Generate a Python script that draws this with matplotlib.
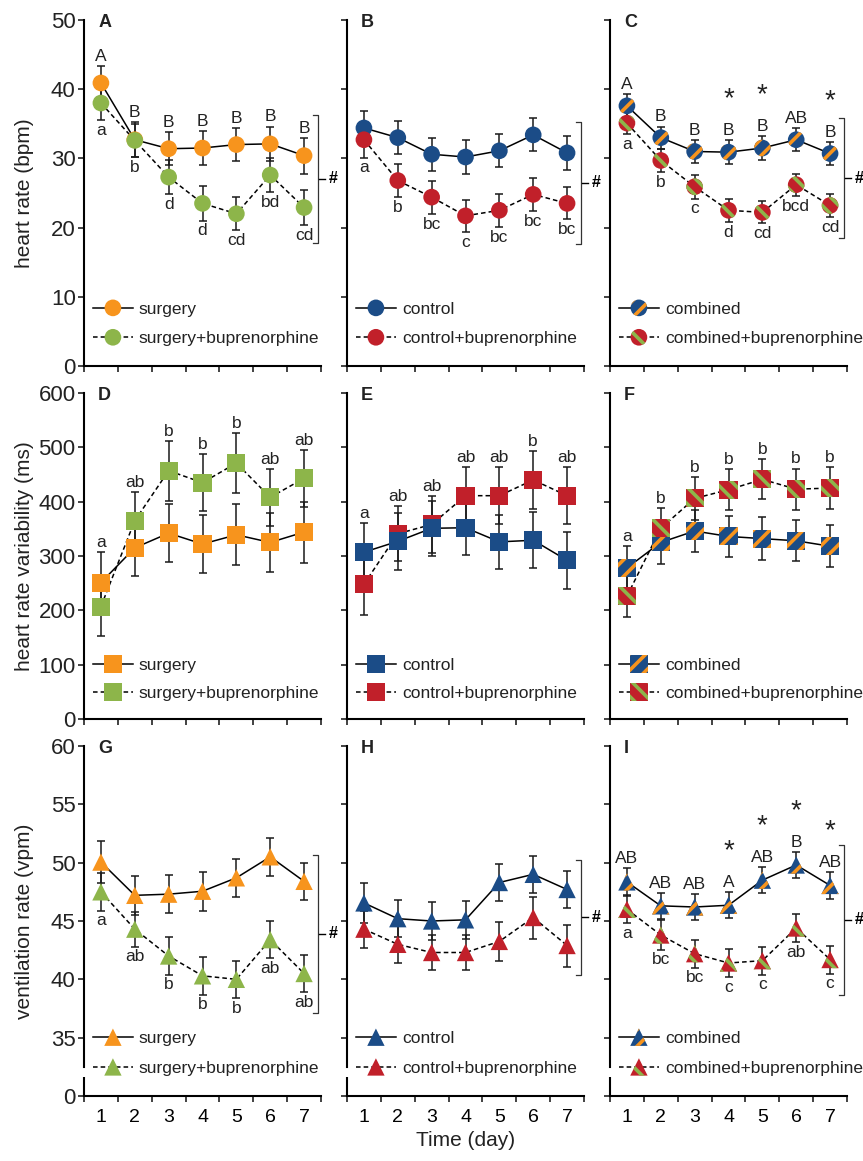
import matplotlib
matplotlib.use("Agg")
import matplotlib.pyplot as plt
import numpy as np

plt.rcParams['font.family'] = ['Liberation Sans', 'DejaVu Sans']
plt.rcParams['hatch.linewidth'] = 2.6

days = [1, 2, 3, 4, 5, 6, 7]

# colours
orange = '#F7941D'
green = '#8DB54A'
blue = '#1B4C87'
red = '#C1202A'

# heart rate (bpm), mean and SEM
hr_surg = [40.9, 32.7, 31.4, 31.5, 32.0, 32.1, 30.4]
hr_surg_sem = [2.5, 2.5, 2.4, 2.4, 2.4, 2.5, 2.6]
hr_surg_bup = [38.0, 32.6, 27.3, 23.5, 22.0, 27.6, 22.9]
hr_surg_bup_sem = [2.5, 2.4, 2.5, 2.5, 2.4, 2.5, 2.5]
hr_ctrl = [34.4, 33.0, 30.6, 30.2, 31.1, 33.4, 30.8]
hr_ctrl_sem = [2.5, 2.4, 2.4, 2.4, 2.4, 2.4, 2.5]
hr_ctrl_bup = [32.7, 26.8, 24.4, 21.7, 22.5, 24.8, 23.5]
hr_ctrl_bup_sem = [2.6, 2.4, 2.4, 2.3, 2.4, 2.4, 2.3]
hr_comb = [37.6, 33.0, 31.0, 30.9, 31.5, 32.7, 30.7]
hr_comb_sem = [1.7, 1.6, 1.7, 1.7, 1.7, 1.7, 1.7]
hr_comb_bup = [35.1, 29.7, 25.9, 22.5, 22.2, 26.2, 23.2]
hr_comb_bup_sem = [1.6, 1.7, 1.7, 1.7, 1.6, 1.6, 1.7]

# heart rate variability (ms)
hrv_surg = [251, 315, 342, 322, 339, 325, 344]
hrv_surg_sem = [56, 52, 53, 53, 56, 54, 56]
hrv_surg_bup = [207, 365, 457, 435, 471, 408, 443]
hrv_surg_bup_sem = [55, 53, 55, 53, 55, 52, 52]
hrv_ctrl = [307, 327, 351, 352, 326, 329, 292]
hrv_ctrl_sem = [54, 52, 51, 50, 50, 52, 53]
hrv_ctrl_bup = [248, 341, 358, 411, 411, 440, 411]
hrv_ctrl_bup_sem = [56, 51, 52, 52, 52, 54, 53]
hrv_comb = [278, 325, 346, 336, 332, 328, 318]
hrv_comb_sem = [40, 39, 38, 38, 39, 38, 39]
hrv_comb_bup = [226, 351, 406, 422, 441, 423, 425]
hrv_comb_bup_sem = [38, 38, 39, 38, 37, 38, 38]

# ventilation rate (vpm)
vr_surg = [50.05, 47.2, 47.3, 47.55, 48.7, 50.5, 48.4]
vr_surg_sem = [1.8, 1.7, 1.65, 1.65, 1.6, 1.6, 1.6]
vr_surg_bup = [47.5, 44.3, 42.0, 40.3, 40.0, 43.4, 40.5]
vr_surg_bup_sem = [1.6, 1.5, 1.6, 1.6, 1.6, 1.6, 1.6]
vr_ctrl = [46.55, 45.2, 45.0, 45.1, 48.3, 49.0, 47.7]
vr_ctrl_sem = [1.7, 1.6, 1.6, 1.6, 1.6, 1.6, 1.6]
vr_ctrl_bup = [44.3, 43.0, 42.3, 42.3, 43.25, 45.3, 42.9]
vr_ctrl_bup_sem = [1.6, 1.6, 1.5, 1.5, 1.7, 1.8, 1.8]
vr_comb = [48.35, 46.3, 46.2, 46.35, 48.5, 49.8, 48.05]
vr_comb_sem = [1.2, 1.1, 1.15, 1.1, 1.1, 1.15, 1.15]
vr_comb_bup = [46.0, 43.8, 42.2, 41.4, 41.6, 44.4, 41.7]
vr_comb_bup_sem = [1.2, 1.25, 1.2, 1.2, 1.2, 1.2, 1.2]

# significance letters
A_upper = ['A', 'B', 'B', 'B', 'B', 'B', 'B']
A_lower = ['a', 'b', 'd', 'd', 'cd', 'bd', 'cd']
B_lower = ['a', 'b', 'bc', 'c', 'bc', 'bc', 'bc']
C_upper = ['A', 'B', 'B', 'B', 'B', 'AB', 'B']
C_lower = ['a', 'b', 'c', 'd', 'cd', 'bcd', 'cd']
C_stars = [4, 5, 7]
D_letters = ['a', 'ab', 'b', 'b', 'b', 'ab', 'ab']
E_letters = ['a', 'ab', 'ab', 'ab', 'ab', 'b', 'ab']
F_letters = ['a', 'b', 'b', 'b', 'b', 'b', 'b']
G_lower = ['a', 'ab', 'b', 'b', 'b', 'ab', 'ab']
I_upper = ['AB', 'AB', 'AB', 'A', 'AB', 'B', 'AB']
I_lower = ['a', 'bc', 'bc', 'c', 'c', 'ab', 'c']
I_stars = [4, 5, 6, 7]

W, H = 863, 1161
fig = plt.figure(figsize=(W / 100, H / 100), dpi=100)

lefts = [84, 347, 610]
width = 237
rows = [(20, 366), (393, 719), (746, 1096)]

x = np.arange(7) + 0.5
LW = 1.1
DASH = (0, (3, 2))
TXT = '#222222'


def style(face, stripe=None, back=False):
    if stripe is None:
        return dict(facecolor=face, edgecolor='none', linewidths=0)
    return dict(facecolor=face, edgecolor=stripe, linewidths=0,
                hatch='\\\\' if back else '//')


def msize(marker):
    return {'o': 12.0, 's': 13.0, '^': 12.5}[marker] ** 2


def draw(ax, s1, e1, s2, e2, marker, st1, st2, top2=True):
    ax.plot(x, s1, color='k', lw=LW, zorder=2)
    ax.plot(x, s2, color='k', lw=LW, ls=DASH, zorder=2)
    for s, e in ((s1, e1), (s2, e2)):
        ax.errorbar(x, s, yerr=e, fmt='none', ecolor='#1a1a1a', elinewidth=1.1,
                    capsize=3, capthick=1.1, zorder=3)
    z1, z2 = (4, 5) if top2 else (5, 4)
    ax.scatter(x, s1, marker=marker, s=msize(marker), zorder=z1, **st1)
    ax.scatter(x, s2, marker=marker, s=msize(marker), zorder=z2, **st2)


def legend(ax, labels, marker, st1, st2):
    for lab, ls, st, yy in ((labels[0], '-', st1, 0.168), (labels[1], DASH, st2, 0.083)):
        ax.plot([0.038, 0.207], [yy, yy], transform=ax.transAxes, color='k',
                lw=LW, ls=ls, clip_on=False, zorder=6)
        ax.scatter([0.122], [yy], transform=ax.transAxes, marker=marker,
                   s=msize(marker), clip_on=False, zorder=7, **st)
        ax.text(0.232, yy, lab, transform=ax.transAxes, va='center_baseline',
                ha='left', fontsize=12.5, color=TXT)


def above(ax, vals, sems, labels):
    for xi, v, e, lab in zip(x, vals, sems, labels):
        ax.annotate(lab, (xi, v + e), xytext=(0, 1.5), textcoords='offset points',
                    ha='center', va='bottom', fontsize=12.5, color=TXT)


def below(ax, vals, sems, labels):
    for xi, v, e, lab in zip(x, vals, sems, labels):
        ax.annotate(lab, (xi, v - e), xytext=(0, -2), textcoords='offset points',
                    ha='center', va='top', fontsize=12.5, color=TXT)


def stars(ax, vals, sems, which):
    for d in which:
        i = d - 1
        ax.annotate('*', (x[i], vals[i] + sems[i]), xytext=(0, 20),
                    textcoords='offset points', ha='center', va='bottom',
                    fontsize=20, color=TXT)


def bracket(ax, y0, y1):
    xb = 6.9
    ax.plot([xb - 0.15, xb, xb, xb - 0.15], [y1, y1, y0, y0], color='#333333',
            lw=0.9, clip_on=False)
    ym = (y0 + y1) / 2
    ax.plot([xb + 0.05, xb + 0.22], [ym, ym], color='k', lw=1.0, clip_on=False)
    ax.text(xb + 0.46, ym, '#', ha='center', va='center', fontsize=11.5,
            fontweight='bold', clip_on=False)


axes = []
for r, (top, bot) in enumerate(rows):
    row = []
    for c, left in enumerate(lefts):
        ax = fig.add_axes([left / W, 1 - bot / H, width / W, (bot - top) / H])
        ax.spines[['top', 'right']].set_visible(False)
        ax.spines['left'].set_linewidth(1.5)
        ax.spines['bottom'].set_linewidth(1.5)
        ax.set_xlim(0, 7)
        ax.set_xticks(range(8))
        ax.set_xticks(x, minor=True)
        ax.tick_params(axis='both', which='major', direction='out', length=4,
                       width=1.2, labelsize=16, pad=2, colors=TXT)
        ax.tick_params(axis='x', which='major', labelbottom=False)
        ax.tick_params(axis='x', which='minor', length=0, labelsize=14, pad=9)
        if r == 2:
            ax.set_xticklabels([str(d) for d in days], minor=True)
        else:
            ax.set_xticklabels([], minor=True)
        if c > 0:
            ax.tick_params(axis='y', labelleft=False)
        ax.text(0.06, 0.98, 'ABCDEFGHI'[r * 3 + c], transform=ax.transAxes,
                ha='left', va='baseline', fontsize=13, fontweight='bold', color=TXT)
        row.append(ax)
    axes.append(row)

circ, sq, tri = 'o', 's', '^'
lab_s = ['surgery', 'surgery+buprenorphine']
lab_c = ['control', 'control+buprenorphine']
lab_m = ['combined', 'combined+buprenorphine']
s_or, s_gr = style(orange), style(green)
s_bl, s_rd = style(blue), style(red)
s_cb = style(blue, orange)
s_cr = style(red, green, back=True)

# row 1: heart rate
ax = axes[0][0]
draw(ax, hr_surg, hr_surg_sem, hr_surg_bup, hr_surg_bup_sem, circ, s_or, s_gr)
above(ax, hr_surg, hr_surg_sem, A_upper)
below(ax, hr_surg_bup, hr_surg_bup_sem, A_lower)
bracket(ax, 17.8, 36.3)
legend(ax, lab_s, circ, s_or, s_gr)

ax = axes[0][1]
draw(ax, hr_ctrl, hr_ctrl_sem, hr_ctrl_bup, hr_ctrl_bup_sem, circ, s_bl, s_rd)
below(ax, hr_ctrl_bup, hr_ctrl_bup_sem, B_lower)
bracket(ax, 17.7, 35.2)
legend(ax, lab_c, circ, s_bl, s_rd)

ax = axes[0][2]
draw(ax, hr_comb, hr_comb_sem, hr_comb_bup, hr_comb_bup_sem, circ, s_cb, s_cr)
above(ax, hr_comb, hr_comb_sem, C_upper)
below(ax, hr_comb_bup, hr_comb_bup_sem, C_lower)
stars(ax, hr_comb, hr_comb_sem, C_stars)
bracket(ax, 18.5, 35.8)
legend(ax, lab_m, circ, s_cb, s_cr)

for ax in axes[0]:
    ax.set_ylim(0, 50)
    ax.set_yticks(range(0, 51, 10))
axes[0][0].set_ylabel('heart rate (bpm)', fontsize=15, color=TXT)

# row 2: heart rate variability
ax = axes[1][0]
draw(ax, hrv_surg, hrv_surg_sem, hrv_surg_bup, hrv_surg_bup_sem, sq, s_or, s_gr)
tops = np.maximum(np.add(hrv_surg, hrv_surg_sem), np.add(hrv_surg_bup, hrv_surg_bup_sem))
above(ax, tops, [0] * 7, D_letters)
legend(ax, lab_s, sq, s_or, s_gr)

ax = axes[1][1]
draw(ax, hrv_ctrl, hrv_ctrl_sem, hrv_ctrl_bup, hrv_ctrl_bup_sem, sq, s_bl, s_rd, top2=False)
tops = np.maximum(np.add(hrv_ctrl, hrv_ctrl_sem), np.add(hrv_ctrl_bup, hrv_ctrl_bup_sem))
above(ax, tops, [0] * 7, E_letters)
legend(ax, lab_c, sq, s_bl, s_rd)

ax = axes[1][2]
draw(ax, hrv_comb, hrv_comb_sem, hrv_comb_bup, hrv_comb_bup_sem, sq, s_cb, s_cr)
tops = np.maximum(np.add(hrv_comb, hrv_comb_sem), np.add(hrv_comb_bup, hrv_comb_bup_sem))
above(ax, tops, [0] * 7, F_letters)
legend(ax, lab_m, sq, s_cb, s_cr)

for ax in axes[1]:
    ax.set_ylim(0, 600)
    ax.set_yticks(range(0, 601, 100))
axes[1][0].set_ylabel('heart rate variability (ms)', fontsize=15, color=TXT)

# row 3: ventilation rate (broken axis, bottom tick is 0)
ax = axes[2][0]
draw(ax, vr_surg, vr_surg_sem, vr_surg_bup, vr_surg_bup_sem, tri, s_or, s_gr)
below(ax, vr_surg_bup, vr_surg_bup_sem, G_lower)
bracket(ax, 37.1, 50.7)
legend(ax, lab_s, tri, s_or, s_gr)

ax = axes[2][1]
draw(ax, vr_ctrl, vr_ctrl_sem, vr_ctrl_bup, vr_ctrl_bup_sem, tri, s_bl, s_rd)
bracket(ax, 40.4, 50.25)
legend(ax, lab_c, tri, s_bl, s_rd)
ax.set_xlabel('Time (day)', fontsize=15, color=TXT, labelpad=4)

ax = axes[2][2]
draw(ax, vr_comb, vr_comb_sem, vr_comb_bup, vr_comb_bup_sem, tri, s_cb, s_cr)
above(ax, vr_comb, vr_comb_sem, I_upper)
below(ax, vr_comb_bup, vr_comb_bup_sem, I_lower)
stars(ax, vr_comb, vr_comb_sem, I_stars)
bracket(ax, 38.7, 51.5)
legend(ax, lab_m, tri, s_cb, s_cr)

for ax in axes[2]:
    ax.set_ylim(30, 60)
    ax.set_yticks(range(30, 61, 5))
    ax.set_yticklabels(['0', '35', '40', '45', '50', '55', '60'])
    ax.spines['left'].set_bounds(32.5, 60)
    ax.plot([0, 0], [30, 31.6], color='k', lw=1.5, clip_on=False,
            solid_capstyle='butt', zorder=6)
axes[2][0].set_ylabel('ventilation rate (vpm)', fontsize=15, color=TXT)

for row in axes:
    row[0].yaxis.set_label_coords(-0.21, 0.5)

fig.savefig('out.png', dpi=100)
